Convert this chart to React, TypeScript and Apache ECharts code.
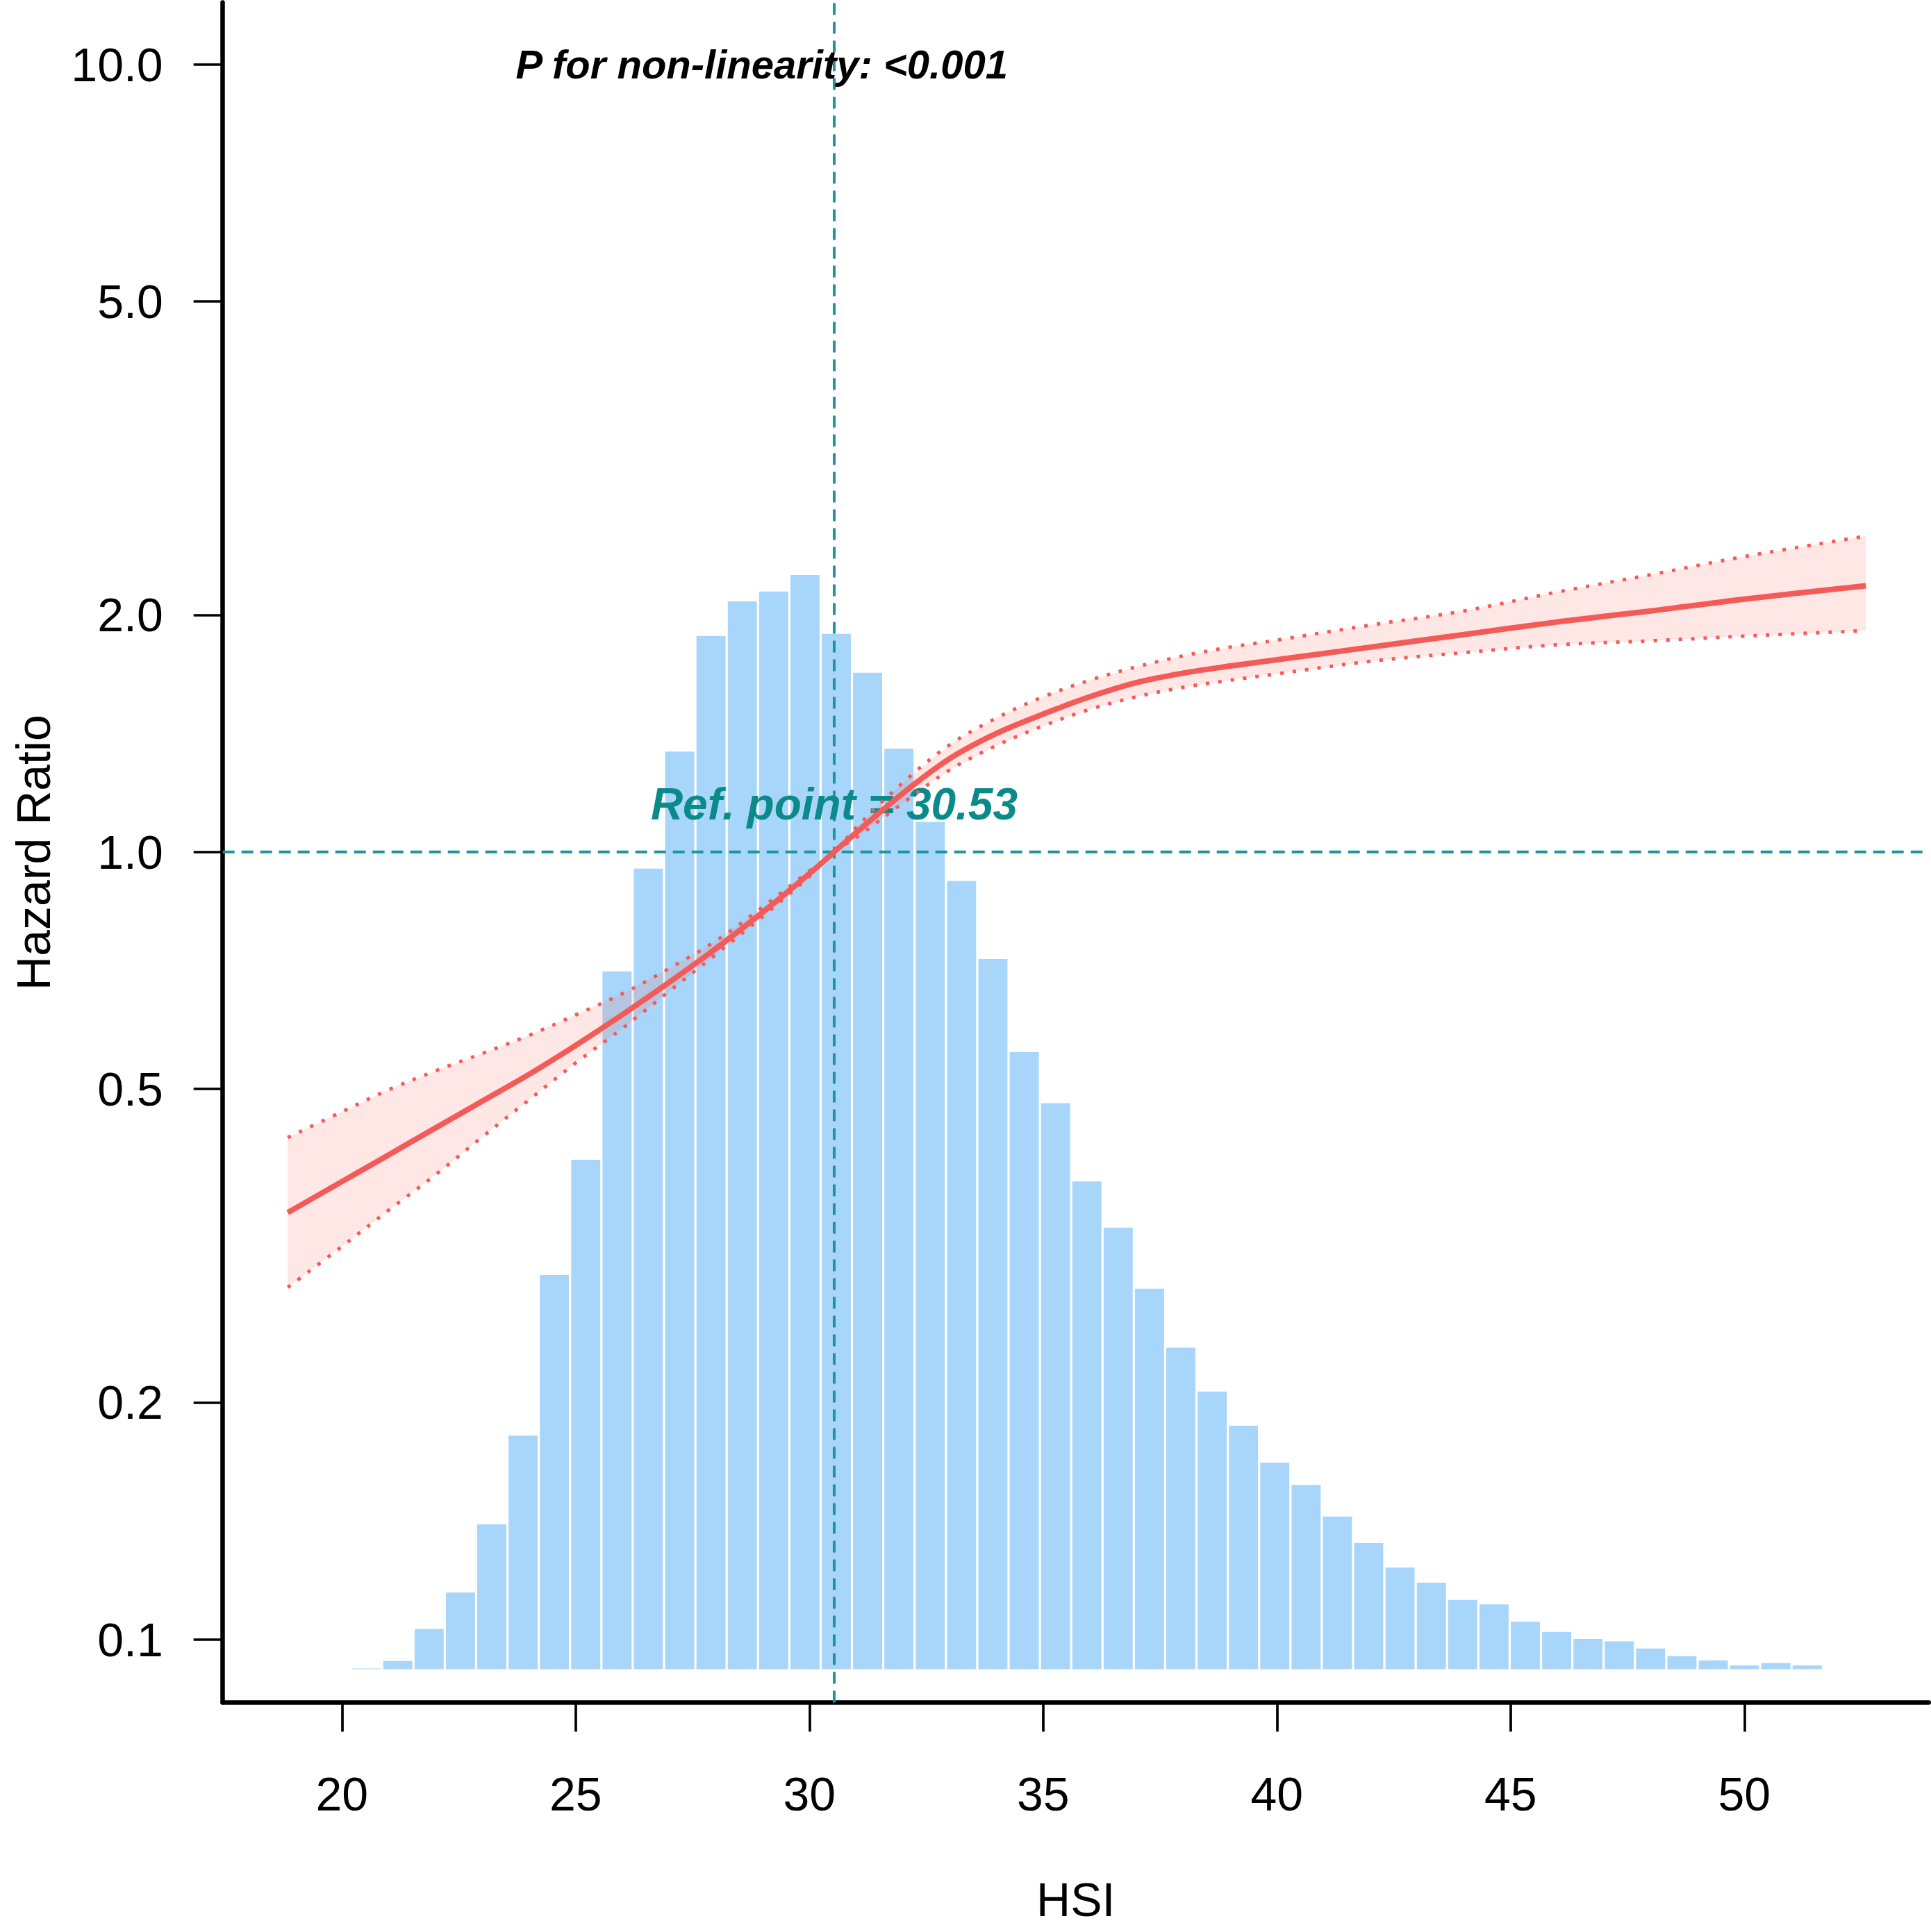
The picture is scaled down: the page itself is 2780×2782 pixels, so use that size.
import React, { useEffect, useRef } from "react";
import * as echarts from "echarts";

// ---- data ----
const hsi = [18.84, 20, 21, 22, 23, 24, 25, 26, 27, 28, 29, 30, 30.53, 31, 32, 33, 34, 35, 36, 37, 38, 39, 40, 42, 44, 46, 48, 50, 52.6];
const hrEstimate = [0.3483, 0.3814, 0.4124, 0.4461, 0.4824, 0.5217, 0.568, 0.6214, 0.6829, 0.7541, 0.8381, 0.9384, 1.0, 1.0578, 1.187, 1.3134, 1.4139, 1.4962, 1.574, 1.6406, 1.6866, 1.7219, 1.7539, 1.8197, 1.888, 1.9588, 2.023, 2.0941, 2.1777];
const hrUpper = [0.4339, 0.4677, 0.4989, 0.5272, 0.5546, 0.5848, 0.6209, 0.6607, 0.7112, 0.7709, 0.8511, 0.9462, 1.0, 1.074, 1.2246, 1.3677, 1.4791, 1.574, 1.652, 1.7179, 1.7742, 1.8197, 1.8578, 1.9409, 2.023, 2.138, 2.2491, 2.3714, 2.5177];
const hrLower = [0.2799, 0.3155, 0.3508, 0.389, 0.4345, 0.4842, 0.5395, 0.597, 0.6653, 0.7413, 0.8279, 0.9311, 1.0, 1.0423, 1.1535, 1.2706, 1.3646, 1.4454, 1.5171, 1.574, 1.6181, 1.652, 1.6827, 1.7458, 1.7906, 1.8323, 1.8535, 1.8793, 1.9099];

// histogram of HSI (relative bar heights); bins start at histStart, width histBinWidth
const histStart = 20.19;
const histBinWidth = 0.67;
const histHeights = [1.5, 7.5, 33.5, 63, 118.5, 190.5, 321, 414.5, 567.5, 651, 746, 840, 868, 876, 889.5, 841.7, 810, 748.5, 689, 641, 577.5, 502, 460.5, 397, 359.5, 309.8, 262, 226.3, 198.5, 168.5, 150.5, 124.8, 103.2, 83.3, 71.1, 57.2, 53.5, 39.3, 31.2, 25.4, 23.4, 17.7, 11.5, 7.9, 3.8, 5.8, 3.8];

const xTickValues = [20, 25, 30, 35, 40, 45, 50];
const yTickValues = [0.1, 0.2, 0.5, 1, 2, 5, 10];
const refPoint = 30.53;
const refHR = 1;
const pLabel = "P for non-linearity: <0.001";
const refLabel = "Ref. point = 30.53";
const xAxisTitle = "HSI";
const yAxisTitle = "Hazard Ratio";

// ---- layout / style ----
const W = 2780;
const H = 2782;
const X_MIN = 17.45;
const X_MAX = 53.944;
const Y_MIN = -1.0801; // log10(HR)
const Y_MAX = 1.0786;
const HIST_MIN = -26.2;
const HIST_MAX = 1354.4;
const FONT = "'Liberation Sans', Arial, Helvetica, sans-serif";
const RED = "#F35B58";
const TEAL = "#1F9696";
const TEAL_TEXT = "#0B8A8A";
const BAR = "#A8D5FA";
const BAND = "rgba(250, 110, 100, 0.17)";
const SMOOTH = 0.35;

export default function App() {
  const ref = useRef<HTMLDivElement>(null);

  useEffect(() => {
    const chart = echarts.init(ref.current as HTMLDivElement, null, {
      renderer: "svg",
      width: W,
      height: H,
    });
    const lg = (v: number) => Math.log10(v);

    const histData = histHeights.map((h, i) => [
      histStart + i * histBinWidth,
      histStart + (i + 1) * histBinWidth,
      h,
    ]);
    const lowerData = hsi.map((x, i) => [x, lg(hrLower[i])]);
    const upperData = hsi.map((x, i) => [x, lg(hrUpper[i])]);
    const mainData = hsi.map((x, i) => [x, lg(hrEstimate[i])]);
    const yTickLog = yTickValues.map(lg);

    const dotted = { color: RED, width: 5, type: [5, 13] as number[] };
    const dashed = { color: TEAL, width: 4, type: [17, 10] as number[] };

    const textLabel = (text: string, size: number, color: string) => ({
      show: true,
      position: "inside",
      formatter: text,
      fontSize: size,
      fontWeight: "bold",
      fontStyle: "italic",
      color,
      opacity: 1,
      fontFamily: FONT,
    });

    const option: any = {
      animation: false,
      backgroundColor: "#ffffff",
      grid: {
        left: 320.7,
        right: 3.3,
        top: 3.6,
        bottom: 330.5,
        containLabel: false,
        outerBoundsMode: "none",
      },
      xAxis: {
        type: "value",
        min: X_MIN,
        max: X_MAX,
        name: xAxisTitle,
        nameLocation: "middle",
        nameGap: 252,
        nameTextStyle: { fontSize: 68, lineHeight: 62, color: "#000", fontFamily: FONT },
        axisLine: { show: true, onZero: false, lineStyle: { color: "#000", width: 6.5 } },
        axisTick: {
          show: true,
          customValues: xTickValues,
          length: 42,
          lineStyle: { color: "#000", width: 3.7 },
        },
        axisLabel: {
          show: true,
          customValues: xTickValues,
          margin: 97,
          fontSize: 68,
          color: "#000",
          fontFamily: FONT,
        },
        splitLine: { show: false },
      },
      yAxis: [
        {
          type: "value",
          min: Y_MIN,
          max: Y_MAX,
          name: yAxisTitle,
          nameLocation: "middle",
          nameGap: 242,
          nameTextStyle: { fontSize: 68, lineHeight: 62, color: "#000", fontFamily: FONT },
          axisLine: { show: true, onZero: false, lineStyle: { color: "#000", width: 6.5 } },
          axisTick: {
            show: true,
            customValues: yTickLog,
            length: 42,
            lineStyle: { color: "#000", width: 3.7 },
          },
          axisLabel: {
            show: true,
            customValues: yTickLog,
            margin: 86,
            fontSize: 68,
            color: "#000",
            fontFamily: FONT,
            formatter: (v: number) => Math.pow(10, v).toFixed(1),
          },
          splitLine: { show: false },
        },
        {
          type: "value",
          min: HIST_MIN,
          max: HIST_MAX,
          show: false,
          splitLine: { show: false },
        },
      ],
      series: [
        {
          type: "custom",
          name: "histogram",
          xAxisIndex: 0,
          yAxisIndex: 1,
          z: 1,
          silent: true,
          encode: { x: [0, 1], y: 2 },
          data: histData,
          renderItem: (params: any, api: any) => {
            const p0 = api.coord([api.value(0), api.value(2)]);
            const p1 = api.coord([api.value(1), 0]);
            const gap = 1.6;
            return {
              type: "rect",
              shape: {
                x: p0[0] + gap,
                y: p0[1],
                width: p1[0] - p0[0] - 2 * gap,
                height: p1[1] - p0[1] - 1.5,
              },
              style: { fill: BAR },
            };
          },
        },
        {
          type: "custom",
          name: "ci-band",
          xAxisIndex: 0,
          yAxisIndex: 0,
          z: 2,
          silent: true,
          clip: true,
          data: [mainData[0]],
          renderItem: (params: any, api: any) => {
            const pts: number[][] = [];
            for (let i = 0; i < upperData.length; i++) pts.push(api.coord(upperData[i]));
            for (let i = lowerData.length - 1; i >= 0; i--) pts.push(api.coord(lowerData[i]));
            return {
              type: "polygon",
              shape: { points: pts },
              style: { fill: BAND },
            };
          },
        },
        {
          type: "line",
          name: "refV",
          symbol: "none",
          z: 3,
          silent: true,
          data: [
            [refPoint, Y_MIN],
            [refPoint, Y_MAX],
          ],
          lineStyle: dashed,
        },
        {
          type: "line",
          name: "refH",
          symbol: "none",
          z: 3,
          silent: true,
          data: [
            [X_MIN, lg(refHR)],
            [X_MAX, lg(refHR)],
          ],
          lineStyle: dashed,
        },
        {
          type: "scatter",
          name: "labels",
          symbolSize: 0,
          z: 3,
          silent: true,
          itemStyle: { opacity: 1 },
          data: [
            { value: [28.98, lg(10)], label: textLabel(pLabel, 58, "#000") },
            { value: [refPoint, lg(1.15)], label: textLabel(refLabel, 64, TEAL_TEXT) },
          ],
        },
        {
          type: "line",
          name: "lower",
          smooth: SMOOTH,
          symbol: "none",
          z: 4,
          silent: true,
          data: lowerData,
          lineStyle: dotted,
        },
        {
          type: "line",
          name: "upper",
          smooth: SMOOTH,
          symbol: "none",
          z: 4,
          silent: true,
          data: upperData,
          lineStyle: dotted,
        },
        {
          type: "line",
          name: "HR",
          smooth: SMOOTH,
          symbol: "none",
          z: 5,
          silent: true,
          data: mainData,
          lineStyle: { color: RED, width: 8 },
        },
      ],
    };

    chart.setOption(option);
    return () => {
      chart.dispose();
    };
  }, []);

  return (
    <div
      ref={ref}
      style={{ position: "absolute", left: 0, top: 0, width: W, height: H, background: "#fff" }}
    />
  );
}
